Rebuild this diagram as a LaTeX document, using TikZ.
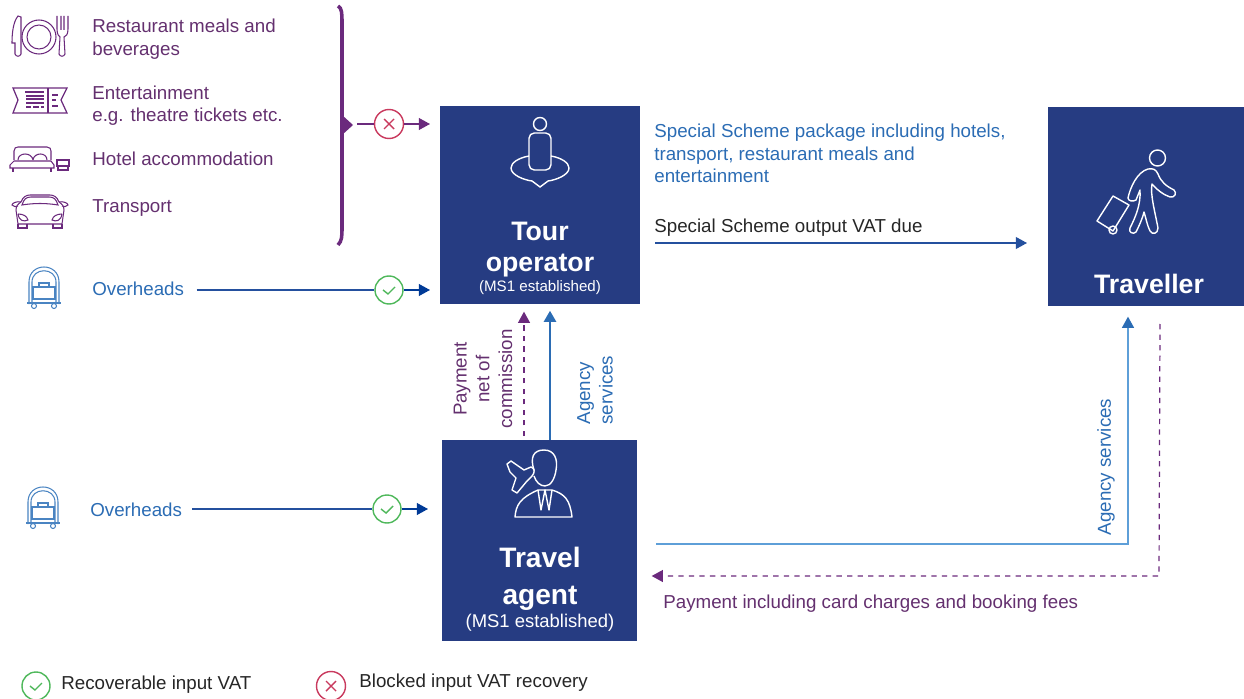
\documentclass[tikz,border=0pt]{standalone}
\usepackage{fontspec}
\setmainfont{Liberation Sans}
\usetikzlibrary{arrows.meta}
\definecolor{boxblue}{HTML}{263C82}
\definecolor{lineblue}{HTML}{24509E}
\definecolor{tipblue}{HTML}{003A96}
\definecolor{textblue}{HTML}{2B6CB4}
\definecolor{paleblue}{HTML}{5E9FD8}
\definecolor{iconblue}{HTML}{4A84C2}
\definecolor{vatpurple}{HTML}{6B2A7D}
\definecolor{textpurple}{HTML}{64306F}
\definecolor{okgreen}{HTML}{4FB85B}
\definecolor{badred}{HTML}{C93A5E}
\tikzset{
    plain/.style={inner sep=0pt,anchor=west,align=left,font=\fontsize{10.67}{12.9}\selectfont},
    boxname/.style={inner sep=0pt,align=center,text=white,font=\bfseries\fontsize{15.2}{18}\selectfont},
    party/.style={fill=boxblue,draw=none,inner sep=0pt,anchor=north west},
    tiny tip/.style={-{Triangle[length=6.4pt,width=6.8pt]}},
    okring/.style={circle,draw=okgreen,fill=white,line width=0.8pt,minimum size=0.56cm,inner sep=0pt,
        path picture={\draw[okgreen,line width=0.8pt,shift={(path picture bounding box.center)}] (-6,0) -- (-1,4) -- (6,-3);}},
    badring/.style={circle,draw=badred,fill=white,line width=0.8pt,minimum size=0.58cm,inner sep=0pt,
        path picture={\draw[badred,line width=0.8pt,shift={(path picture bounding box.center)}] (-5,-5) -- (5,5) (-5,5) -- (5,-5);}},
    trolley/.pic={
        \draw[iconblue,line width=0.6pt] (-15,16) -- (-15,-6) .. controls (-15,-26) and (15,-26) .. (15,-6) -- (15,16);
        \draw[iconblue,line width=0.6pt] (-12,16) -- (-12,-6) .. controls (-12,-21) and (12,-21) .. (12,-6) -- (12,16);
        \draw[iconblue,line width=0.7pt] (-11,-1) rectangle (11,11);
        \draw[iconblue,line width=0.6pt] (-5,-1) -- (-5,-5) -- (5,-5) -- (5,-1);
        \draw[iconblue,line width=1.2pt] (-17,15) -- (17,15);
        \draw[iconblue,line width=0.6pt] (-10,18) circle (2.5) (10,18) circle (2.5);
    }
}
\begin{document}
\begin{tikzpicture}[x=0.02cm,y=-0.02cm]
    \useasboundingbox (0,0) rectangle (1244,699);
    % the three parties
    \node[party,minimum width=4cm,minimum height=3.96cm] (tour) at (440,106) {};
    \node[party,minimum width=3.92cm,minimum height=3.98cm] (traveller) at (1048,107) {};
    \node[party,minimum width=3.9cm,minimum height=4.02cm] (agent) at (442,440) {};
    \node[boxname] (tourname) at (540,249.5) {Tour\\operator};
    \node[boxname,text=white,font=\fontsize{8.6}{10}\selectfont] (tourms) at (540,288) {(MS1 established)};
    \node[boxname] (travellername) at (1149,284) {Traveller};
    \node[boxname,font=\bfseries\fontsize{16}{20.8}\selectfont] (agentname) at (540,579) {Travel\\agent};
    \node[boxname,font=\fontsize{10.5}{12}\selectfont] (agentms) at (540,623) {(MS1 established)};
    % purchases
    \node[plain,text=textpurple] (meals) at (92,39) {Restaurant meals and\\beverages};
    \node[plain,text=textpurple] (shows) at (92,105.5) {Entertainment\\e.g. theatre tickets etc.};
    \node[plain,text=textpurple] (hotel) at (92,159) {Hotel accommodation};
    \node[plain,text=textpurple] (transport) at (92,208) {Transport};
    \node[plain,text=textblue] (overone) at (92,288.5) {Overheads};
    \node[plain,text=textblue] (overtwo) at (90,509.5) {Overheads};
    % texts by the arrows
    \node[plain,text=textblue] (package) at (654,153.5) {Special Scheme package including hotels,\\transport, restaurant meals and\\entertainment};
    \node[plain,text=black!85] (vatdue) at (654,228) {Special Scheme output VAT due};
    \node[plain,text=textpurple] (fees) at (663,603.5) {Payment including card charges and booking fees};
    \node[plain,text=textpurple,anchor=center,align=center,rotate=90] (netpay) at (483,379) {Payment\\net of\\commission};
    \node[plain,text=textblue,anchor=center,rotate=90] (agencyup) at (595,390) {Agency\\services};
    \node[plain,text=textblue,anchor=center,rotate=90] (agencyright) at (1106,467) {Agency services};
    % legend
    \node[okring] (okkey) at (36,686) {};
    \node[plain,text=black!85] (okkeytext) at (61,685) {Recoverable input VAT};
    \node[badring] (badkey) at (331,686) {};
    \node[plain,text=black!85] (badkeytext) at (359,683) {Blocked input VAT recovery};
    % rings on the input lines
    \node[badring] (badone) at (389,124) {};
    \node[okring] (okone) at (389,290) {};
    \node[okring] (oktwo) at (387,509) {};
    % brace
    \draw[vatpurple,line width=2pt] (338,6) .. controls (342,8) and (342,14) .. (342,22) -- (342,228) .. controls (342,236) and (342,241) .. (338,245);
    \fill[vatpurple] (342,115) -- (353,125) -- (342,135) -- cycle;
    \coordinate (bracetip) at (357,124);
    \coordinate (vatstart) at (655,243);
    \coordinate (blueup) at (1128,544);
    \coordinate (dashcorner) at (1159,576);
    \coordinate (dashstart) at (1160,324);
    \coordinate (dashfoot) at (524,436);
    \coordinate (solidfoot) at (550,440);
    \coordinate (blueleft) at (656,544);
    % connectors
    \draw[vatpurple,line width=0.8pt] (bracetip) -- (badone);
    \draw[tiny tip,vatpurple,line width=0.8pt,shorten >=0.2cm] (badone) -- (badone -| tour.west);
    \draw[lineblue,line width=0.8pt,shorten <=7pt] (overone.east |- okone) -- (okone);
    \draw[tiny tip,tipblue,line width=0.8pt,shorten >=0.2cm] (okone) -- (okone -| tour.west);
    \draw[lineblue,line width=0.8pt,shorten <=5.5pt] (overtwo.east |- oktwo) -- (oktwo);
    \draw[tiny tip,tipblue,line width=0.8pt,shorten >=0.28cm] (oktwo) -- (oktwo -| agent.west);
    \draw[tiny tip,lineblue,line width=0.7pt,shorten >=0.42cm] (vatstart) -- (vatstart -| traveller.west);
    \draw[tiny tip,textblue,line width=1.6pt,shorten >=0.12cm] (solidfoot) -- (solidfoot |- tour.south);
    \draw[tiny tip,vatpurple,line width=0.7pt,dashed,shorten >=0.14cm] (dashfoot) -- (dashfoot |- tour.south);
    \draw[-{Triangle[length=6.4pt,width=6.8pt,color=textblue]},paleblue,line width=0.9pt,shorten >=0.2cm] (blueleft) -- (blueup) -- (blueup |- traveller.south);
    \draw[tiny tip,vatpurple,line width=0.7pt,dashed,shorten >=0.28cm] (dashstart) -- (dashcorner) -- (dashcorner -| agent.east);
    % plate, knife and fork
    \begin{scope}[vatpurple,line width=0.6pt]
        \draw (39,37) circle (17) (39,37) circle (12);
        \draw (18,16) .. controls (13,22) and (12,34) .. (12,43) -- (15,43) -- (15,54) .. controls (16,57) and (20,57) .. (21,54) -- (21,17) -- cycle;
        \draw (57,16) -- (57,29) .. controls (57,35) and (59,36) .. (60,37) -- (59,54) .. controls (60,57) and (64,57) .. (65,54) -- (64,37) .. controls (66,36) and (68,35) .. (68,29) -- (68,16) (61,16) -- (61,30) (64,16) -- (64,30);
    \end{scope}
    % ticket
    \begin{scope}[vatpurple,line width=0.7pt]
        \draw (13,88) -- (67,88) -- (61,100) -- (67,113) -- (13,113) -- (18,100) -- cycle;
        \draw (48,88) -- (48,113) (52,95) -- (58,95) (52,100) -- (56,100) (52,106) -- (58,106);
        \draw (25,92) -- (44,92) (26,96) -- (44,96) (26,99) -- (44,99) (26,103) -- (44,103);
        \draw[line width=1.4pt] (26,107) -- (31,107) (33,107) -- (39,107) (41,107) -- (44,107);
    \end{scope}
    % bed and stool
    \begin{scope}[vatpurple,line width=0.6pt]
        \draw (14,160) -- (14,151) .. controls (14,148) and (16,147) .. (18,147) -- (47,147) .. controls (50,147) and (51,149) .. (51,151) -- (51,160);
        \draw (18,160) .. controls (18,152) and (32,152) .. (33,160) (33,160) .. controls (34,152) and (47,152) .. (47,160);
        \draw (10,168) -- (10,165) -- (14,161) -- (51,161) -- (54,165) -- (54,168) -- cycle;
        \draw (13,168) -- (13,172) (51,168) -- (51,172);
        \draw (57,160) rectangle (69,166) (58,166) -- (58,170) -- (68,170) -- (68,166);
    \end{scope}
    % car
    \begin{scope}[vatpurple,line width=0.6pt]
        \draw (18,224) -- (16,210) .. controls (16,206) and (18,204) .. (21,202) .. controls (23,197) and (26,195) .. (30,195) -- (50,195) .. controls (54,195) and (57,197) .. (59,202) .. controls (62,204) and (64,206) .. (64,210) -- (62,224) -- cycle;
        \draw (22,205) .. controls (24,199) and (26,197) .. (31,197) -- (49,197) .. controls (54,197) and (56,199) .. (58,205) .. controls (46,203) and (34,203) .. (22,205) -- cycle;
        \draw (21,202) .. controls (17,201) and (12,203) .. (12,205) .. controls (14,207) and (16,207) .. (18,206);
        \draw (59,202) .. controls (63,201) and (68,203) .. (68,205) .. controls (66,207) and (64,207) .. (62,206);
        \draw (18,214) .. controls (23,214) and (27,216) .. (28,220) .. controls (24,222) and (19,221) .. (18,214);
        \draw (62,214) .. controls (57,214) and (53,216) .. (52,220) .. controls (56,222) and (61,221) .. (62,214);
        \draw (18,224) -- (18,228) -- (27,228) -- (27,224) (53,224) -- (53,228) -- (62,228) -- (62,224);
    \end{scope}
    % trolleys
    \pic at (44,288) {trolley};
    \pic at (43,508) {trolley};
    % tour operator icon
    \begin{scope}[white,line width=0.8pt]
        \draw (540,124) circle (6.5);
        \draw[rounded corners=3pt] (529,133) rectangle (551,170);
        \draw (529,156) .. controls (518,158) and (511,163) .. (511,168) .. controls (511,175) and (524,180) .. (532,181) -- (540,187) -- (548,181) .. controls (556,180) and (569,175) .. (569,168) .. controls (569,163) and (562,158) .. (551,156);
    \end{scope}
    % traveller icon
    \begin{scope}[white,line width=0.8pt,line join=round]
        \draw (1157.5,158) circle (8);
        \draw (1128,198) .. controls (1130,188) and (1137,172) .. (1148,169) .. controls (1154,168) and (1156,170) .. (1158,174) .. controls (1161,182) and (1166,186) .. (1174,190) .. controls (1177,193) and (1175,198) .. (1170,197) .. controls (1164,195) and (1157,190) .. (1152,184) .. controls (1150,194) and (1155,212) .. (1158,228) .. controls (1158,234) and (1152,235) .. (1150,231) .. controls (1147,225) and (1146,218) .. (1144,212) .. controls (1142,220) and (1138,228) .. (1136,232) .. controls (1133,235) and (1128,232) .. (1130,228) .. controls (1135,218) and (1141,205) .. (1140,190) -- (1136,200) .. controls (1133,202) and (1128,201) .. (1128,198) -- cycle;
        \draw (1113,196) -- (1097,221) -- (1113,231) -- (1129,205) -- cycle;
        \draw (1113,230) circle (4);
    \end{scope}
    % travel agent icon
    \begin{scope}[white,line width=0.8pt,line join=round]
        \draw (534,470) .. controls (530,458) and (533,450) .. (544,450) .. controls (555,450) and (558,460) .. (556,470) .. controls (555,478) and (551,486) .. (545,486) .. controls (540,486) and (536,482) .. (534,476);
        \draw (515,517) .. controls (516,505) and (520,498) .. (538,490) -- (552,490) .. controls (565,494) and (570,500) .. (572,517) -- cycle;
        \draw (538,490) -- (541,510) -- (545,490) -- (549,510) -- (552,490);
        \draw (507,464) -- (511,461) -- (524,470) -- (531,467) .. controls (535,468) and (535,473) .. (532,476) -- (527,481) -- (517,493) -- (512,490) -- (516,478) -- (510,472) -- cycle;
    \end{scope}
\end{tikzpicture}
\end{document}
